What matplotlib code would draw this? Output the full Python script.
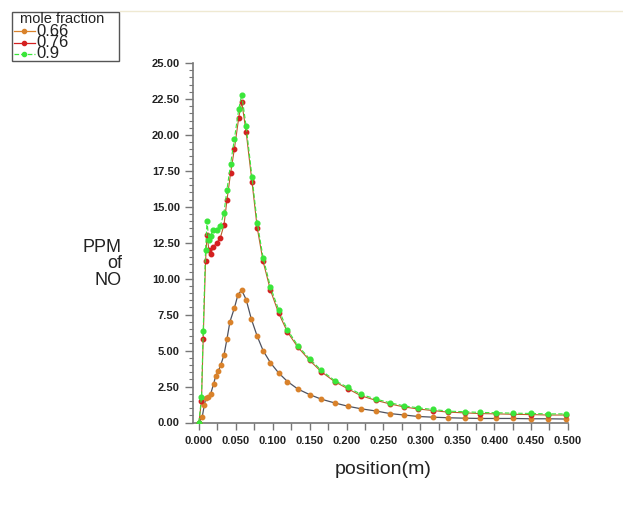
import matplotlib
matplotlib.use("Agg")
from matplotlib import pyplot as plt
from matplotlib.lines import Line2D
from matplotlib.patches import Rectangle
from matplotlib.ticker import MultipleLocator, FormatStrFormatter

# NO concentration along the position for three mole fractions
x66 = [0, 0.0045, 0.0075, 0.0095, 0.012, 0.016, 0.020, 0.0226, 0.026, 0.0294,
       0.034, 0.038, 0.042, 0.048, 0.053, 0.058, 0.064, 0.071, 0.079, 0.087,
       0.097, 0.108, 0.120, 0.134, 0.150, 0.166, 0.184, 0.202, 0.220, 0.240,
       0.259, 0.278, 0.297, 0.317, 0.338, 0.360, 0.381, 0.403, 0.426, 0.450,
       0.473, 0.498]
y66 = [0, 0.4, 1.25, 1.7, 1.75, 2.0, 2.7, 3.2, 3.55, 3.97,
       4.7, 5.8, 7.0, 7.95, 8.9, 9.2, 8.55, 7.2, 6.0, 5.0,
       4.15, 3.45, 2.85, 2.33, 1.94, 1.62, 1.36, 1.13, 0.95, 0.8,
       0.62, 0.52, 0.42, 0.37, 0.33, 0.3, 0.28, 0.28, 0.28, 0.26,
       0.26, 0.24]

x_hi = [0, 0.0035, 0.0058, 0.009, 0.011, 0.0135, 0.016, 0.019, 0.024, 0.029,
        0.034, 0.038, 0.043, 0.048, 0.054, 0.058, 0.064, 0.072, 0.079, 0.087,
        0.097, 0.108, 0.120, 0.134, 0.150, 0.166, 0.184, 0.202, 0.220, 0.240,
        0.259, 0.278, 0.297, 0.317, 0.338, 0.360, 0.381, 0.403, 0.426, 0.450,
        0.473, 0.498]
y76 = [0, 1.48, 5.78, 11.2, 13.07, 12.0, 11.75, 12.17, 12.5, 12.84,
       13.74, 15.46, 17.36, 19.0, 21.2, 22.3, 20.2, 16.7, 13.55, 11.2,
       9.19, 7.61, 6.29, 5.24, 4.32, 3.52, 2.84, 2.34, 1.85, 1.54,
       1.29, 1.08, 0.94, 0.83, 0.72, 0.67, 0.62, 0.6, 0.57, 0.55,
       0.52, 0.52]
y90 = [0, 1.76, 6.36, 12.0, 14.0, 12.67, 13.0, 13.37, 13.4, 13.66,
       14.6, 16.2, 18.0, 19.7, 21.8, 22.8, 20.6, 17.06, 13.9, 11.47,
       9.42, 7.85, 6.45, 5.35, 4.43, 3.62, 2.92, 2.44, 1.95, 1.63,
       1.37, 1.16, 1.02, 0.91, 0.79, 0.75, 0.70, 0.68, 0.65, 0.63,
       0.60, 0.60]

labels = ["0.66", "0.76", "0.9"]

plt.rcParams['font.family'] = ['Liberation Sans', 'DejaVu Sans']

W, H = 623, 520
fig = plt.figure(figsize=(W / 100, H / 100), dpi=100)
ax = fig.add_axes([193 / W, 1 - 422.5 / H, 378.6 / W, 359.5 / H])

c_orange = '#d9822b'
c_red = '#d42020'
c_green = '#3ae63a'

ax.plot(x66, y66, color='#4e5260', lw=0.9, marker='o', ms=3.2,
        mfc=c_orange, mec=c_orange, zorder=3)
ax.plot(x_hi, y76, color='#b8602a', lw=0.8, marker='o', ms=3.2,
        mfc=c_red, mec=c_red, zorder=3)
ax.plot(x_hi, y90, color=c_green, lw=0.8, ls=(0, (4, 2)), marker='o', ms=3.4,
        mfc=c_green, mec=c_green, zorder=4)

ax.set_xlim(-0.008, 0.505)
ax.set_ylim(0, 25)
ax.xaxis.set_major_locator(MultipleLocator(0.05))
ax.xaxis.set_minor_locator(MultipleLocator(0.025))
ax.yaxis.set_major_locator(MultipleLocator(2.5))
ax.yaxis.set_minor_locator(MultipleLocator(0.5))
ax.xaxis.set_major_formatter(FormatStrFormatter('%.3f'))
ax.yaxis.set_major_formatter(FormatStrFormatter('%.2f'))

for side in ['top', 'right']:
    ax.spines[side].set_visible(False)
for side in ['left', 'bottom']:
    ax.spines[side].set_color('#777777')
    ax.spines[side].set_linewidth(1.2)
ax.spines['bottom'].set_bounds(-0.008, 0.5)

ax.tick_params(axis='both', which='major', direction='out', colors='#777777',
               labelcolor='#222222', labelsize=8, width=1)
ax.tick_params(axis='y', which='major', length=6)
ax.tick_params(axis='x', which='major', length=5, pad=5)
ax.tick_params(axis='y', which='minor', length=3, width=0.8, colors='#777777')
ax.tick_params(axis='x', which='minor', length=5, width=1, colors='#777777')
for lab in ax.get_xticklabels() + ax.get_yticklabels():
    lab.set_fontweight('bold')

# axis titles
fig.text(383 / W, 1 - 470 / H, "position(m)", ha='center', va='center',
         fontsize=14, color='#222222')
fig.text(122 / W, 1 - 264 / H, "PPM\nof\nNO", ha='right', va='center',
         fontsize=13, color='#222222', linespacing=0.95, multialignment='right')

# legend box drawn by hand
fig.patches.append(Rectangle((12 / W, 1 - 61 / H), 107 / W, 49 / H,
                             transform=fig.transFigure, fill=False,
                             edgecolor='#555555', lw=1))
fig.text(62 / W, 1 - 19 / H, "mole fraction", ha='center', va='center',
         fontsize=10.5, color='#222222')
handles = [(c_orange, '-', c_orange), (c_red, '-', c_red), (c_green, '--', c_green)]
ys = [31, 42.5, 54]
for (lc, ls, mc), yy, lab in zip(handles, ys, labels):
    fy = 1 - yy / H
    fig.lines.append(Line2D([14 / W, 35 / W], [fy, fy], transform=fig.transFigure,
                            color=lc, ls=ls, lw=0.9))
    fig.lines.append(Line2D([24 / W], [fy], transform=fig.transFigure,
                            marker='o', ms=3, color=mc, ls='none'))
    fig.text(36 / W, fy, lab, ha='left', va='center', fontsize=12,
             color='#222222')

# faint rule along the top
fig.lines.append(Line2D([120 / W, 1], [1 - 10.5 / H, 1 - 10.5 / H],
                        transform=fig.transFigure, color='#efe9d2', lw=1))

fig.savefig("out.png", dpi=100)
